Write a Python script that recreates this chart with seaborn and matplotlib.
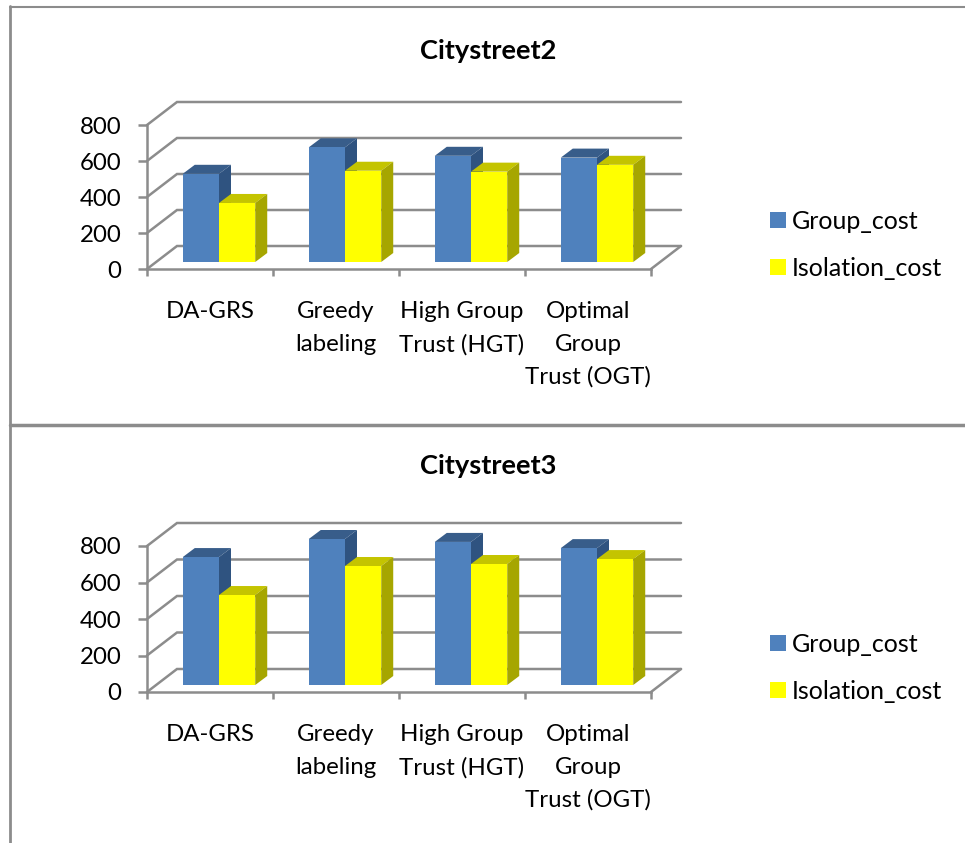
import matplotlib
matplotlib.use("Agg")
import matplotlib.pyplot as plt
from matplotlib.lines import Line2D
from matplotlib.patches import Polygon
import pandas as pd
import seaborn as sns

categories = ["DA-GRS", "Greedy\nlabeling", "High Group\nTrust (HGT)", "Optimal\nGroup\nTrust (OGT)"]
series_names = ["Group_cost", "Isolation_cost"]
street2_group = [490, 637, 590, 580]
street2_isolation = [328, 507, 502, 540]
street3_group = [701, 800, 784, 750]
street3_isolation = [493, 652, 663, 690]
y_ticks = [0, 200, 400, 600, 800]

GRID = "#8c8c8c"
FACE = ["#4f81bd", "#ffff00"]
TOP = ["#385d8a", "#c4c400"]
SIDE = ["#2f5380", "#a6a600"]

W, H = 965, 843
WALL = (30, 23)
DEPTH = (12, 9)

sns.set_theme(style="white")
plt.rcParams["font.family"] = ["Lato", "DejaVu Sans"]

fig = plt.figure(figsize=(W / 100, H / 100), dpi=100)


def frame_line(x0, y0, x1, y1, lw):
    fig.add_artist(Line2D([x0 / W, x1 / W], [1 - y0 / H, 1 - y1 / H], color=GRID, lw=lw))


def draw_chart(title, title_y, base_y, top_y, group, isolation):
    ax = fig.add_axes([147 / W, 1 - base_y / H, 504 / W, (base_y - top_y) / H])
    df = pd.DataFrame({
        "category": categories * 2,
        "series": [series_names[0]] * 4 + [series_names[1]] * 4,
        "value": group + isolation,
    })
    sns.barplot(data=df, x="category", y="value", hue="series", palette=FACE,
                width=0.575, gap=0, saturation=1, ax=ax, errorbar=None, linewidth=0)
    ax.set_xlim(-0.5, 3.5)
    ax.set_ylim(0, 800)
    ax.set_xlabel("")
    ax.set_ylabel("")

    # pixel sizes in data units
    px = 4 / 504
    py = 800 / (base_y - top_y)
    wall_x, wall_y = WALL[0] * px, WALL[1] * py
    depth_x, depth_y = DEPTH[0] * px, DEPTH[1] * py

    # gridlines go along the side wall and then the back wall
    for t in y_ticks:
        ax.plot([-0.5, -0.5 + wall_x, 3.5 + wall_x], [t, t + wall_y, t + wall_y],
                color=GRID, lw=1.8, clip_on=False, zorder=1, solid_joinstyle="miter")
    ax.plot([3.5, 3.5 + wall_x], [0, wall_y], color=GRID, lw=1.8, clip_on=False, zorder=1)

    # bars sit in the middle of the floor
    shift_x = (wall_x - depth_x) / 2
    shift_y = (wall_y - depth_y) / 2
    for s, container in enumerate(ax.containers):
        for i, bar in enumerate(container):
            x0 = bar.get_x() + shift_x
            x1 = x0 + bar.get_width()
            y0 = shift_y
            y1 = y0 + bar.get_height()
            bar.set_x(x0)
            bar.set_y(y0)
            bar.set_clip_on(False)
            order = 3 + i * 3 + s * 1.5
            bar.set_zorder(order + 1)
            ax.add_patch(Polygon([(x0, y1), (x1, y1), (x1 + depth_x, y1 + depth_y), (x0 + depth_x, y1 + depth_y)],
                                 facecolor=TOP[s], edgecolor="none", clip_on=False, zorder=order))
            ax.add_patch(Polygon([(x1, y0), (x1, y1), (x1 + depth_x, y1 + depth_y), (x1 + depth_x, y0 + depth_y)],
                                 facecolor=SIDE[s], edgecolor="none", clip_on=False, zorder=order))

    sns.despine(ax=ax)
    for side in ["left", "bottom"]:
        ax.spines[side].set_color(GRID)
        ax.spines[side].set_linewidth(1.8)

    ax.set_yticks(y_ticks)
    ax.set_xticks(range(4))
    ax.set_xticklabels(categories, linespacing=1.68)
    ax.set_xticks([-0.5, 0.5, 1.5, 2.5, 3.5], minor=True)
    ax.tick_params(axis="y", left=True, length=6.5, width=1.8, color=GRID, pad=12, labelsize=17.3, labelcolor="black")
    ax.tick_params(axis="x", which="major", bottom=False, length=0, pad=23, labelsize=17.3, labelcolor="black")
    ax.tick_params(axis="x", which="minor", bottom=True, length=5, width=1.8, color=GRID)

    leg = ax.legend(loc="center left", bbox_to_anchor=(770 / W, 1 - (base_y - 24) / H),
                    bbox_transform=fig.transFigure, frameon=False, fontsize=18,
                    handlelength=0.62, handleheight=0.62, handletextpad=0.25,
                    labelspacing=0.96, borderaxespad=0, borderpad=0, title=None)
    for text in leg.get_texts():
        text.set_color("black")

    fig.text(488 / W, 1 - title_y / H, title, ha="center", va="center", fontsize=19.6, fontweight="bold", color="black")


draw_chart("Citystreet2", 51, 269, 125, street2_group, street2_isolation)
draw_chart("Citystreet3", 466, 692, 546, street3_group, street3_isolation)

frame_line(9.5, 6, 9.5, 843, 2)
frame_line(9.5, 6.5, 965, 6.5, 1.5)
frame_line(9.5, 425, 965, 425, 2.5)

fig.savefig("out.png", dpi=100)
